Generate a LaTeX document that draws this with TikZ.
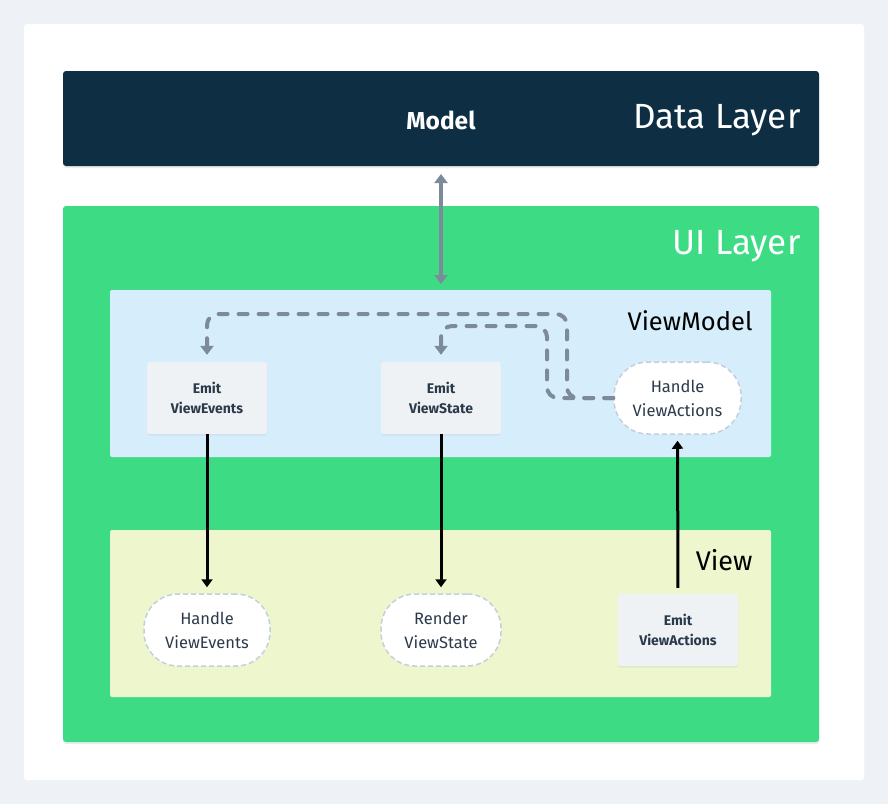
\documentclass[tikz,border=0pt]{standalone}
\usepackage{fontspec}
\setmainfont{Fira Sans}
\usetikzlibrary{arrows.meta,shadows}
\definecolor{bgcol}{HTML}{EEF2F6}
\definecolor{navy}{HTML}{0D2E43}
\definecolor{droid}{HTML}{3DDC84}
\definecolor{vmblue}{HTML}{D6EEFB}
\definecolor{vyellow}{HTML}{EEF6CE}
\definecolor{boxgray}{HTML}{EEF2F4}
\definecolor{inkcol}{HTML}{2B3A4A}
\definecolor{flowgray}{HTML}{7D8A9A}
\definecolor{dashgray}{HTML}{C5CFDB}

\begin{document}
\begin{tikzpicture}[x=1pt,y=-1pt,
    emitbox/.style={fill=boxgray,rounded corners=2pt,minimum width=120pt,minimum height=72pt,
        font=\fontsize{14}{20}\selectfont\bfseries,text=inkcol,align=center,
        drop shadow={shadow xshift=0pt,shadow yshift=-1.5pt,opacity=0.12}},
    handler/.style={fill=white,draw=dashgray,line width=1.5pt,dash pattern=on 5pt off 3pt,
        rounded corners=34pt,minimum height=72pt,
        font=\fontsize{16.5}{24}\selectfont,text=inkcol,align=center},
    flow/.style={draw=black,line width=3pt,-{Triangle[width=11pt,length=8pt]},shorten >=6pt},
    back/.style={draw=flowgray,line width=4pt,line cap=round,dash pattern=on 9pt off 11pt,
        rounded corners=11pt,-{Triangle[width=13pt,length=9pt]}}]

    \fill[bgcol] (0,0) rectangle (888,804);
    \fill[white,rounded corners=3pt] (24,24) rectangle (864,780);

    \fill[navy,rounded corners=3pt,drop shadow={shadow xshift=0pt,shadow yshift=-2pt,opacity=0.15}] (63,71) rectangle (819,166);
    \fill[droid,rounded corners=3pt,drop shadow={shadow xshift=0pt,shadow yshift=-2pt,opacity=0.15}] (63,206) rectangle (819,742);
    \fill[vmblue,rounded corners=2pt] (110,290) rectangle (771,457);
    \fill[vyellow,rounded corners=2pt] (110,530) rectangle (771,697);

    \coordinate (DL) at (441,166);
    \coordinate (VM) at (441,290);

    \node[white,font=\fontsize{24.5}{28}\selectfont\bfseries] (model) at (441,120) {Model};
    \node[white,anchor=east,font=\fontsize{35}{40}\selectfont] (dltitle) at (804,120) {Data Layer};
    \node[white,anchor=east,font=\fontsize{35}{40}\selectfont] (uititle) at (804,246) {UI Layer};
    \node[black,anchor=east,font=\fontsize{25.5}{30}\selectfont] (vmtitle) at (756,321) {ViewModel};
    \node[black,anchor=east,font=\fontsize{27}{30}\selectfont] (vtitle) at (756,560) {View};

    \node[emitbox] (EVE) at (207,398) {Emit\\ViewEvents};
    \node[emitbox] (EVS) at (441,398) {Emit\\ViewState};
    \node[handler,minimum width=127pt] (HVA) at (677.5,398) {Handle\\ViewActions};

    \node[handler,minimum width=126pt] (HVE) at (207,630) {Handle\\ViewEvents};
    \node[handler,minimum width=120pt] (RVS) at (441,630) {Render\\ViewState};
    \node[emitbox] (EVA) at (678,630) {Emit\\ViewActions};

    \draw[draw=flowgray,line width=4pt,{Triangle[width=13pt,length=9pt]}-{Triangle[width=13pt,length=9pt]},
        shorten <=8pt,shorten >=6pt] (DL) -- (VM);

    \draw[flow] (EVE.south) -- (HVE.north);
    \draw[flow] (EVS.south) -- (RVS.north);
    \draw[flow,shorten <=6pt,shorten >=6pt] (EVA.north) -- (HVA.south);

    \coordinate (outA) at (567,398);
    \coordinate (outB) at (547,398);
    \draw[back,shorten >=7pt] (HVA.west) -- (outA) -- (567,314) -- (207,314) -- (EVE.north);
    \draw[back,shorten >=7pt] (HVA.west) -- (outB) -- (547,326) -- (441,326) -- (EVS.north);
\end{tikzpicture}
\end{document}
